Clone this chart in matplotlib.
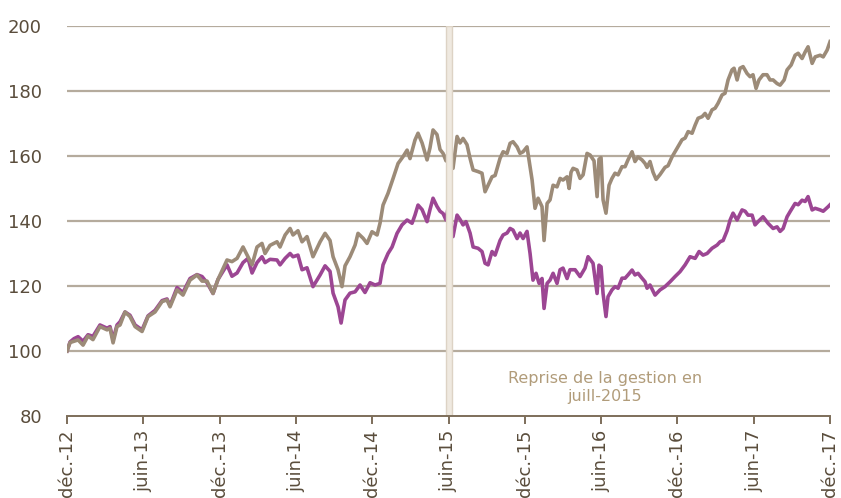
import matplotlib
matplotlib.use("Agg")
import matplotlib.pyplot as plt

# time in months since déc.-2012
t_fund = [0, 0.24, 0.55, 0.87, 1.26, 1.65, 2.04, 2.59, 3.15, 3.38, 3.62, 3.93, 4.17, 4.56, 4.95, 5.35,
          5.90, 6.37, 6.92, 7.47, 7.86, 8.10, 8.65, 9.12, 9.67, 10.22, 10.62, 11.01, 11.48, 11.87, 12.58,
          12.97, 13.37, 13.84, 14.23, 14.55, 14.94, 15.33, 15.57, 15.96, 16.51, 16.75, 17.15, 17.54, 17.77,
          18.16, 18.48, 18.87, 19.34, 19.90, 20.29, 20.68, 20.92, 21.31, 21.62, 21.86, 22.25, 22.65, 22.88,
          23.28, 23.59, 23.98, 24.38, 24.61, 24.85, 25.24, 25.64, 26.03, 26.42, 26.74, 26.97, 27.36, 27.60,
          27.92, 28.31, 28.54, 28.78, 29.09, 29.33, 29.57, 29.80, 29.96, 30.35, 30.67, 30.90, 31.14, 31.45,
          31.69, 31.93, 32.32, 32.63, 32.87, 33.11, 33.42, 33.66, 34.05, 34.29, 34.60, 34.84, 35.07, 35.39,
          35.62, 35.86, 36.17, 36.57, 36.80, 37.04, 37.35, 37.51, 37.75, 37.98, 38.22, 38.53, 38.77, 39.00,
          39.32, 39.48, 39.63, 39.79, 40.10, 40.34, 40.58, 40.89, 41.13, 41.44, 41.68, 41.83, 41.99, 42.15,
          42.38, 42.62, 42.85, 43.09, 43.33, 43.64, 43.88, 44.11, 44.43, 44.66, 44.90, 45.21, 45.45, 45.61,
          45.84, 46.08, 46.32, 46.63, 47.02, 47.26, 47.57, 47.81, 48.05, 48.36, 48.60, 48.84, 49.15, 49.39,
          49.62, 49.94, 50.17, 50.41, 50.72, 50.96, 51.19, 51.51, 51.74, 51.98, 52.29, 52.45, 52.69, 52.92,
          53.16, 53.47, 53.71, 53.94, 54.18, 54.41, 54.73, 55.04, 55.28, 55.52, 55.83, 56.07, 56.39, 56.62,
          56.94, 57.25, 57.49, 57.80, 58.04, 58.27, 58.59, 58.83, 59.22, 59.46, 59.77, 60.0]
fund = [100, 102.6, 103, 103.4, 101.8, 104.6, 103.5, 107.5, 106.5, 107, 102.5, 107.5, 108, 112, 110.6, 107.5,
        106, 110.6, 112, 115.2, 115.7, 113.6, 118.8, 117.2, 121.8, 123.4, 121.5, 121.5, 117.7, 122, 128,
        127.5, 128.5, 132, 129, 126.5, 132, 133.1, 130, 132.5, 133.6, 132, 135.7, 137.7, 135.7,
        137, 133.6, 135.2, 129, 133.6, 136.2, 134, 129, 125, 119.8, 126.2, 129, 132.6, 136.2,
        134.7, 133.1, 136.7, 135.7, 139.3, 144.9, 148.5, 153.1, 157.7, 159.8, 161.8, 159.2, 164.9, 167,
        164, 158.8, 162.5, 168, 166.6, 162, 160.8, 158.5, 161, 156.2, 166, 164, 165.4, 163.5,
        159.3, 155.7, 155.2, 154.7, 149, 151, 153.6, 154, 159.3, 161.3, 160.8, 163.9, 164.4, 162.8,
        160.8, 161.3, 162.8, 152.6, 143.9, 147, 144.4, 134, 145.4, 146.5, 151, 150.5, 153.1, 152.6,
        153.6, 150, 155, 156.2, 155.7, 153.1, 154.2, 160.8, 160.3, 158.5, 147.5, 159, 159.5, 146.5,
        142.4, 151, 153.1, 154.7, 154.2, 156.7, 156.7, 158.8, 161.3, 158.3, 159.7, 158.8, 157.7, 156.5,
        158.3, 155, 152.8, 154.3, 156.5, 157, 159.7, 161.3, 162.9, 165, 165.5, 167.5, 167, 169.5,
        171.6, 172.1, 173.1, 171.6, 174.2, 174.7, 176.2, 178.8, 179.3, 183.4, 186.5, 187, 183.4, 187,
        187.5, 185.4, 184.4, 185, 180.8, 183.4, 185, 185, 183.4, 183.4, 182.3, 181.8, 183.4, 186.5,
        188, 191, 191.6, 190, 192, 193.6, 188.5, 190.5, 191, 190.5, 192.6, 195.2]

t_index = [0, 0.24, 0.55, 0.87, 1.26, 1.65, 2.04, 2.59, 3.15, 3.38, 3.62, 3.93, 4.17, 4.56, 4.95, 5.35,
           5.90, 6.37, 6.92, 7.47, 7.86, 8.10, 8.65, 9.12, 9.67, 10.22, 10.62, 11.01, 11.48, 11.87, 12.58,
           12.97, 13.37, 13.84, 14.23, 14.55, 14.94, 15.33, 15.57, 15.96, 16.51, 16.75, 17.15, 17.54, 17.77,
           18.16, 18.48, 18.87, 19.34, 19.90, 20.29, 20.68, 20.92, 21.31, 21.55, 21.86, 22.25, 22.65, 23.04,
           23.43, 23.83, 24.22, 24.61, 24.85, 25.24, 25.56, 25.95, 26.34, 26.74, 27.13, 27.36, 27.60, 27.92,
           28.31, 28.54, 28.78, 29.09, 29.33, 29.57, 29.80, 29.96, 30.35, 30.67, 30.90, 31.14, 31.37, 31.69,
           31.93, 32.32, 32.63, 32.87, 33.11, 33.42, 33.66, 34.05, 34.29, 34.60, 34.84, 35.07, 35.39, 35.62,
           35.86, 36.17, 36.41, 36.64, 36.88, 37.12, 37.35, 37.51, 37.75, 37.98, 38.22, 38.53, 38.77, 39.00,
           39.32, 39.55, 39.95, 40.34, 40.73, 40.97, 41.36, 41.68, 41.83, 41.99, 42.15, 42.38, 42.54, 42.85,
           43.09, 43.33, 43.64, 43.88, 44.11, 44.43, 44.66, 44.90, 45.21, 45.45, 45.61, 45.84, 46.24, 46.63,
           47.02, 47.42, 47.81, 48.20, 48.60, 48.99, 49.39, 49.70, 50.01, 50.33, 50.72, 51.12, 51.35, 51.59,
           51.90, 52.14, 52.37, 52.69, 53.08, 53.32, 53.55, 53.87, 54.10, 54.34, 54.73, 55.12, 55.52, 55.83,
           56.07, 56.31, 56.62, 56.86, 57.25, 57.49, 57.80, 58.04, 58.27, 58.59, 58.83, 59.22, 59.46, 59.85,
           60.0]
index = [100, 102.8, 103.8, 104.4, 103, 105, 104.5, 108, 107, 107.5, 103.5, 108, 109, 112, 111, 108,
         106.5, 110.8, 112.5, 115.5, 116, 114, 119.5, 118, 122.3, 123.5, 122.9, 121, 117.7, 122, 126.5,
         123, 124, 127.2, 128.5, 124, 127.2, 129, 127.2, 128.2, 128, 126.5, 128.5, 130, 129,
         129.5, 125, 125.6, 119.8, 123.4, 126.2, 124.5, 117.8, 113.6, 108.6, 115.7, 117.8, 118.2, 120.3,
         118, 121, 120.3, 120.8, 126.5, 130, 132, 136.2, 138.8, 140.3, 139.3, 141.8, 144.9, 143.5,
         139.8, 143.5, 147, 144.5, 143, 142.3, 140.3, 144, 135.2, 141.8, 140.5, 138.8, 139.8, 136.3,
         132, 131.6, 130.6, 127, 126.5, 130.6, 129.5, 134, 135.7, 136.3, 137.7, 137.2, 134.6, 136.3,
         134.6, 136.8, 130, 121.8, 123.9, 120.8, 122.3, 113.1, 120.8, 121.8, 123.9, 120.8, 125, 125.5,
         122.3, 125, 125, 122.9, 125.5, 129, 127, 117.7, 126.4, 125.9, 117.7, 110.6, 116.7, 118.8,
         119.8, 119.3, 122.4, 122.4, 123.4, 124.9, 123.4, 123.9, 122.4, 121.3, 119.3, 120.3, 117.2, 118.8,
         119.8, 121.3, 122.9, 124.4, 126.5, 129, 128.5, 130.6, 129.5, 130, 131.6, 132.6, 133.6, 134,
         137, 140.3, 142.4, 140.3, 143.4, 143, 141.8, 141.8, 138.8, 139.8, 141.3, 139.3, 137.7, 138.2,
         136.8, 137.7, 141.3, 142.9, 145.4, 145, 146.4, 146, 147.5, 143.4, 143.9, 143.4, 143, 144.4,
         145]

tick_months = [0, 6, 12, 18, 24, 30, 36, 42, 48, 54, 60]
tick_labels = ["déc.-12", "juin-13", "déc.-13", "juin-14", "déc.-14", "juin-15",
               "déc.-15", "juin-16", "déc.-16", "juin-17", "déc.-17"]
y_ticks = [80, 100, 120, 140, 160, 180, 200]
event_month = 30.05
annotation = "Reprise de la gestion en\njuill-2015"

TEXT = "#5A4D3C"
GRID = "#B5AB9D"
SPINE = "#7D6E5A"
FUND_C = "#9C8B78"
INDEX_C = "#9C4693"

plt.rcParams['font.family'] = ['DejaVu Sans']
fig = plt.figure(figsize=(8.41, 4.98), dpi=100)
ax = fig.add_axes([0.0797, 0.1647, 0.9073, 0.7831])

for y in y_ticks[1:]:
    ax.axhline(y, color=GRID, lw=1.6, zorder=1)

ax.plot(t_index, index, color=INDEX_C, lw=2.6, zorder=3, solid_joinstyle='round')
ax.plot(t_fund, fund, color=FUND_C, lw=2.6, zorder=4, solid_joinstyle='round')

ax.axvspan(event_month - 0.22, event_month + 0.22, facecolor="#EFE9E0", edgecolor="#DDD3C5",
           lw=1.0, zorder=5)

ax.text(42.3, 88.9, annotation, ha='center', va='center', color="#B19C7A", fontsize=11.5,
        linespacing=1.25, zorder=6)

ax.set_xlim(0, 60)
ax.set_ylim(80, 200)
ax.set_yticks(y_ticks)
ax.set_yticklabels([str(v) for v in y_ticks])
ax.set_xticks(tick_months)
ax.set_xticklabels(tick_labels, rotation=90, va='top', ha='center')

for s in ['left', 'right', 'top']:
    ax.spines[s].set_visible(False)
ax.spines['bottom'].set_color(SPINE)
ax.spines['bottom'].set_linewidth(1.4)
ax.spines['bottom'].set_zorder(6)
ax.tick_params(axis='y', length=0, pad=18, labelsize=13, labelcolor=TEXT)
ax.tick_params(axis='x', length=6, width=1.4, color=SPINE, direction='out', pad=4,
               labelsize=13, labelcolor=TEXT)

fig.savefig("out.png", dpi=100)
